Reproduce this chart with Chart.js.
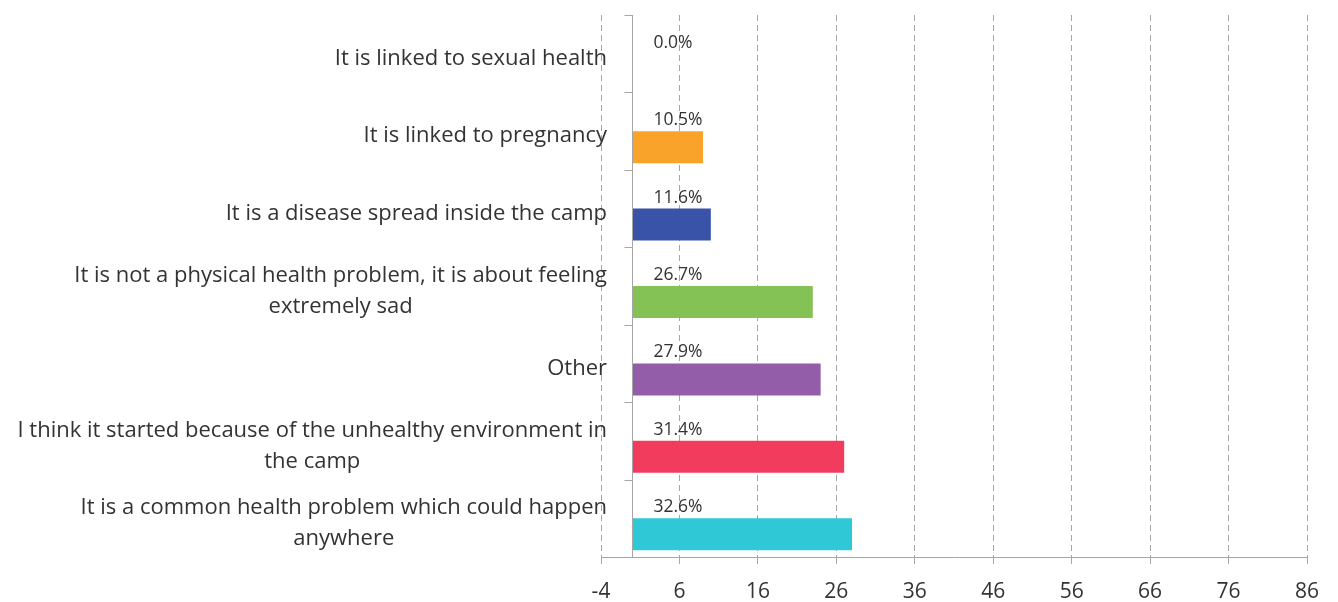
<!DOCTYPE html>
<html>
<head>
<meta charset="utf-8">
<script src="https://cdn.jsdelivr.net/npm/chart.js@4.4.1/dist/chart.umd.min.js"></script>
<style>
  html, body { margin: 0; padding: 0; background: #ffffff; }
  #wrap { width: 1338px; height: 602px; position: relative; }
</style>
</head>
<body>
<div id="wrap"><canvas id="chart" width="1338" height="602"></canvas></div>
<script>
// ---- data ----
const categories = [
  ["It is linked to sexual health"],
  ["It is linked to pregnancy"],
  ["It is a disease spread inside the camp"],
  ["It is not a physical health problem, it is about feeling", "extremely sad"],
  ["Other"],
  ["I think it started because of the unhealthy environment in", "the camp"],
  ["It is a common health problem which could happen", "anywhere"]
];
const counts = [0, 9, 10, 23, 24, 27, 28];
const percentLabels = ["0.0%", "10.5%", "11.6%", "26.7%", "27.9%", "31.4%", "32.6%"];
const barColors = ["#A5A5A5", "#F9A32A", "#3853A8", "#85C255", "#935DAA", "#F13C5E", "#2FC8D6"];
const xMin = -4;
const xMax = 86;
const xStep = 10;

const FONT = "'Open Sans', 'Noto Sans', sans-serif";
const TEXT = "#333333";
const AXIS = "#A6A6A6";

const overlay = {
  id: 'overlay',
  afterDatasetsDraw(chart) {
    const ctx = chart.ctx;
    const xs = chart.scales.x, ys = chart.scales.y;
    const area = chart.chartArea;
    const x0 = Math.round(xs.getPixelForValue(0)) + 0.5;
    ctx.save();
    ctx.strokeStyle = AXIS;
    ctx.lineWidth = 1;
    ctx.beginPath();
    ctx.moveTo(x0, area.top);
    ctx.lineTo(x0, area.bottom);
    ctx.stroke();
    for (let i = 0; i <= categories.length; i++) {
      const y = Math.round(ys.getPixelForValue(i - 0.5)) + 0.5;
      ctx.beginPath();
      ctx.moveTo(x0 - 8, y);
      ctx.lineTo(x0, y);
      ctx.stroke();
    }
    ctx.fillStyle = TEXT;
    ctx.font = "22px " + FONT;
    ctx.textBaseline = 'middle';
    ctx.textAlign = 'center';
    const right = 607;
    const lh = 31;
    categories.forEach((lines, i) => {
      const cy = ys.getPixelForValue(i) + 5;
      const maxW = Math.max(...lines.map(l => ctx.measureText(l).width));
      const cx = right - maxW / 2;
      const y0 = cy - (lines.length - 1) * lh / 2;
      lines.forEach((l, k) => ctx.fillText(l, cx, y0 + k * lh));
    });
    ctx.font = "17.5px " + FONT;
    ctx.textAlign = 'left';
    percentLabels.forEach((t, i) => {
      const cy = ys.getPixelForValue(i) - 11;
      ctx.fillText(t, x0 + 21, cy);
    });
    ctx.restore();
  }
};

new Chart(document.getElementById('chart'), {
  type: 'bar',
  data: {
    labels: categories.map(c => c.join(' ')),
    datasets: [
      { label: 'spacer', data: categories.map(() => null), backgroundColor: 'rgba(0,0,0,0)' },
      { label: 'Responses', data: counts, backgroundColor: barColors, borderWidth: 0 }
    ]
  },
  options: {
    indexAxis: 'y',
    responsive: false,
    animation: false,
    events: [],
    layout: { padding: { top: 15, right: 31, bottom: 0, left: 0 } },
    datasets: { bar: { barPercentage: 1.0, categoryPercentage: 0.827 } },
    plugins: { legend: { display: false }, tooltip: { enabled: false } },
    scales: {
      x: {
        type: 'linear',
        min: xMin,
        max: xMax,
        ticks: { stepSize: xStep, color: TEXT, font: { family: FONT, size: 21 }, padding: 15 },
        grid: { color: AXIS, lineWidth: 1, drawTicks: true, tickLength: 7, tickColor: AXIS, tickBorderDash: [] },
        border: { display: true, color: AXIS, width: 1, dash: [6, 4] },
        afterFit(s) { s.height = 45; }
      },
      y: {
        type: 'category',
        offset: true,
        ticks: { display: false },
        grid: { display: false },
        border: { display: false },
        afterFit(s) { s.width = 601; }
      }
    }
  },
  plugins: [overlay]
});
</script>
</body>
</html>
